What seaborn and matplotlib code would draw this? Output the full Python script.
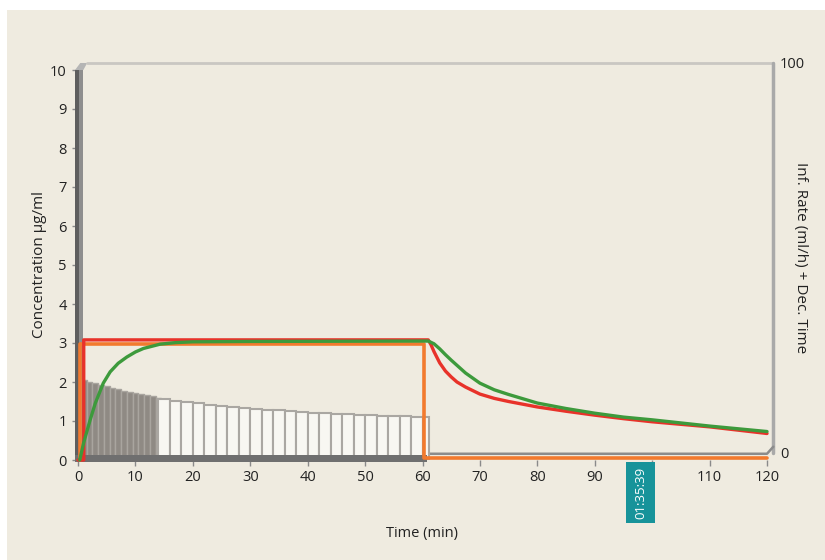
import matplotlib
matplotlib.use("Agg")
import matplotlib.pyplot as plt
from matplotlib.patches import Rectangle, Polygon
import seaborn as sns
import pandas as pd

# ---- data -------------------------------------------------------------
# plasma concentration (red)
plasma_t = [0, 1, 1, 61, 61.5, 62, 63, 64, 65, 66, 67.5, 70, 72.5, 75, 80, 85,
            90, 95, 100, 110, 120]
plasma_c = [0, 0, 3.08, 3.08, 2.95, 2.78, 2.49, 2.28, 2.13, 2.0, 1.87, 1.69, 1.58,
            1.5, 1.36, 1.25, 1.15, 1.06, 0.98, 0.85, 0.68]

# effect-site concentration (green)
effect_t = [0.3, 1, 2.1, 3, 4.4, 5.6, 7, 8.5, 10, 11.4, 14.3, 17, 20, 30, 61,
            62, 63, 64, 65, 67.5, 70, 72.5, 75, 80, 85, 90, 95, 100, 110, 120]
effect_c = [0, 0.45, 1.02, 1.45, 1.97, 2.26, 2.48, 2.64, 2.77, 2.86, 2.97, 3.01, 3.03,
            3.04, 3.05, 2.98, 2.85, 2.7, 2.56, 2.23, 1.97, 1.8, 1.68, 1.46, 1.32,
            1.2, 1.1, 1.03, 0.87, 0.73]

# target concentration (orange)
target_t = [0.35, 0.35, 60.3, 60.3, 120]
target_c = [0, 2.98, 2.98, 0.05, 0.05]

# infusion-rate history: bolus phase (grey) and maintenance phase (white)
bolus_left = [0.5, 1.5, 2.5, 3.5, 4.5, 5.5, 6.5, 7.5, 8.5, 9.5, 10.5, 11.5, 12.5, 13.5]
bolus_height = [2.05, 2.01, 1.97, 1.93, 1.89, 1.85, 1.82, 1.78, 1.75, 1.72, 1.69, 1.66, 1.63, 1.6]
maint_left = [14, 16, 18, 20, 22, 24, 26, 28, 30, 32, 34, 36, 38, 40, 42, 44,
              46, 48, 50, 52, 54, 56, 58, 60]
maint_width = [2] * 23 + [1.2]
maint_height = [1.57, 1.52, 1.48, 1.45, 1.42, 1.39, 1.36, 1.33, 1.31, 1.29, 1.27, 1.25,
                1.23, 1.21, 1.2, 1.18, 1.17, 1.16, 1.15, 1.14, 1.13, 1.12, 1.11, 1.1]

x_ticks = list(range(0, 121, 10))
# the 100-min label sits under the clock marker
x_tick_labels = ["0", "10", "20", "30", "40", "50", "60", "70", "80", "90", "", "110", "120"]
y_ticks = list(range(0, 11))
right_ticks = [0, 100]
clock_label = "01:35:39"

# ---- style ------------------------------------------------------------
sns.set_theme(style="white")
plt.rcParams["font.family"] = ["Open Sans", "DejaVu Sans"]

CREAM = "#efebe0"
TXT = "#222222"
W, H = 825, 560

fig = plt.figure(figsize=(W / 100, H / 100), dpi=100, facecolor="white")
fig.patches.append(Rectangle((7 / W, 0), 1 - 7 / W, 1 - 10 / H,
                             transform=fig.transFigure, facecolor=CREAM,
                             edgecolor="none", zorder=-10))

def fx(px):
    return px / W

def fy(py):
    return 1 - py / H

ax = fig.add_axes([fx(78), fy(460), fx(767) - fx(78), fy(70) - fy(460)])
ax.set_facecolor("none")
ax.set_xlim(0, 120)
ax.set_ylim(0, 10)
for s in ax.spines.values():
    s.set_visible(False)

# 3D-style frame: left wall, floor, top edge
ax.add_patch(Rectangle((-0.52, -0.05), 0.75, 10.05, facecolor="#5e5e5e",
                       edgecolor="none", clip_on=False, zorder=1))
ax.add_patch(Rectangle((0.23, -0.05), 0.7, 10.05, facecolor="#8e8e8e",
                       edgecolor="none", clip_on=False, zorder=1))
ax.add_patch(Polygon([(-0.52, 10.0), (0.93, 10.0), (1.6, 10.18), (0.4, 10.18)],
                     closed=True, facecolor="#b5b5b5", edgecolor="none",
                     clip_on=False, zorder=1))
ax.plot([1.6, 121.1], [10.18, 10.18], color="#c9c7c2", lw=2, clip_on=False, zorder=1)
ax.plot([121.1, 121.1], [10.18, 0.18], color="#a9a9a9", lw=2.5, clip_on=False, zorder=1)
ax.plot([60, 120, 121.1], [0.16, 0.16, 0.34], color="#8c8c8c", lw=1.8,
        clip_on=False, zorder=2)

# infusion history bars
ax.bar(bolus_left, bolus_height, width=1.0, align="edge", color="#8f8a84",
       edgecolor="#a9a59f", linewidth=1.0, zorder=2)
ax.bar(maint_left, maint_height, width=maint_width, align="edge", color="#f8f7f2",
       edgecolor="#aaa7a2", linewidth=1.5, zorder=2)
ax.add_patch(Rectangle((-0.5, -0.06), 61.3, 0.2, facecolor="#6f6f6f",
                       edgecolor="none", clip_on=False, zorder=3))

# concentration curves
df_target = pd.DataFrame({"t": target_t, "c": target_c})
df_plasma = pd.DataFrame({"t": plasma_t, "c": plasma_c})
df_effect = pd.DataFrame({"t": effect_t, "c": effect_c})
line_kw = dict(x="t", y="c", sort=False, estimator=None, errorbar=None, ax=ax,
               clip_on=False, solid_joinstyle="round", solid_capstyle="round")
sns.lineplot(data=df_target, color="#f27a2e", lw=2.6, zorder=4, **line_kw)
sns.lineplot(data=df_plasma, color="#e8322a", lw=2.4, zorder=5, **line_kw)
sns.lineplot(data=df_effect, color="#3d9a3c", lw=2.4, zorder=6, **line_kw)

ax.set_xticks(x_ticks)
ax.set_xticklabels(x_tick_labels)
ax.set_yticks(y_ticks)
ax.tick_params(axis="both", which="major", length=4, width=1, color="#8a8a8a",
               labelsize=10.5, labelcolor=TXT, pad=3, direction="out",
               left=True, bottom=True)
ax.tick_params(axis="y", pad=4)
ax.set_xlabel("Time (min)", fontsize=10.5, color=TXT, labelpad=30)
ax.set_ylabel("Concentration µg/ml", fontsize=11, color=TXT, labelpad=2)

# right axis (infusion rate / decrement time)
ax2 = fig.add_axes([fx(78), fy(453), fx(773) - fx(78), fy(62) - fy(453)])
ax2.set_facecolor("none")
ax2.set_xlim(0, 1)
ax2.set_ylim(0, 100)
ax2.set_xticks([])
ax2.set_yticks(right_ticks)
for s in ax2.spines.values():
    s.set_visible(False)
ax2.yaxis.tick_right()
ax2.yaxis.set_label_position("right")
ax2.tick_params(axis="y", length=0, labelsize=10.5, labelcolor=TXT, pad=5, right=True)
ax2.set_ylabel("Inf. Rate (ml/h) + Dec. Time", rotation=270, fontsize=11,
               color=TXT, labelpad=2)

# current-time marker
fig.patches.append(Rectangle((fx(626), fy(523)), fx(655) - fx(626), fy(462) - fy(523),
                             transform=fig.transFigure, facecolor="#17939a",
                             edgecolor="none", zorder=5))
fig.text(fx(640.5), fy(492.5), clock_label, rotation=90, ha="center", va="center",
         color="white", fontsize=9.5, zorder=6)

fig.savefig("out.png", dpi=100, facecolor=fig.get_facecolor())
